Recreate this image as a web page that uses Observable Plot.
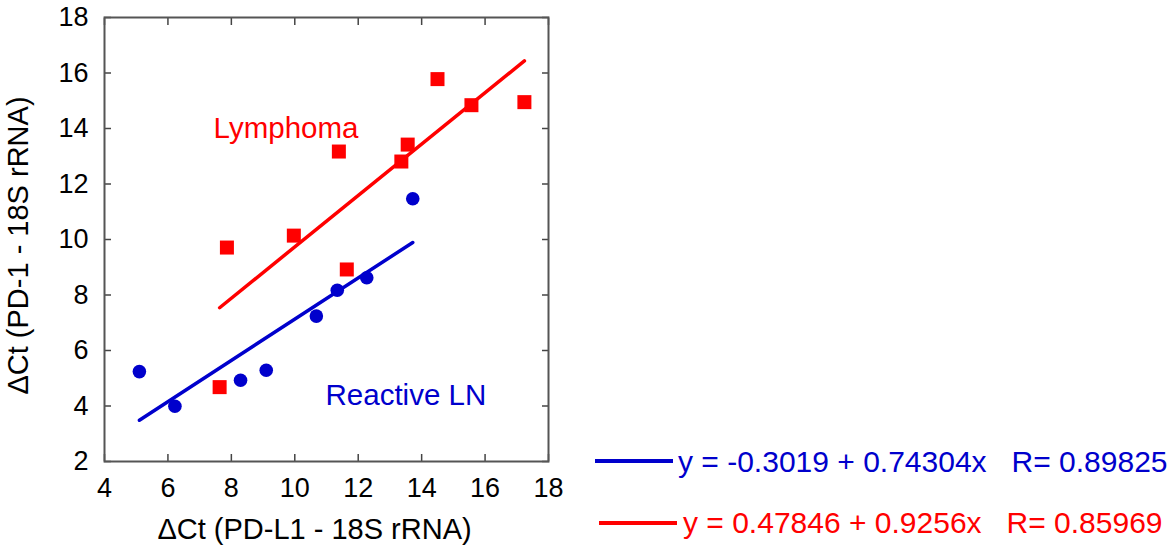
<!DOCTYPE html>
<html>
<head>
<meta charset="utf-8">
<script src="https://cdn.jsdelivr.net/npm/d3@7"></script>
<script src="https://cdn.jsdelivr.net/npm/@observablehq/plot@0.6"></script>
<style>
  html, body { margin: 0; padding: 0; background: #fff; }
  #wrap { position: relative; width: 1176px; height: 548px; font-family: "Liberation Sans", Arial, sans-serif; }
  .leg { position: absolute; white-space: pre; font-size: 30px; line-height: 30px; }
  .legline { position: absolute; height: 4px; }
</style>
</head>
<body>
<div id="wrap"></div>
<script>
// Reactive LN (blue circles)
const reactiveX = [5.10, 6.22, 8.29, 9.10, 10.68, 11.34, 12.27, 13.72];
const reactiveY = [5.24, 3.99, 4.93, 5.29, 7.24, 8.17, 8.62, 11.47];
// Lymphoma (red squares)
const lymphX = [7.63, 7.86, 9.97, 11.39, 11.64, 13.36, 13.56, 14.50, 15.57, 17.24];
const lymphY = [4.68, 9.71, 10.14, 13.17, 8.92, 12.81, 13.42, 15.78, 14.84, 14.95];
// fitted lines (intercept, slope) as printed in the legend
const reactiveFit = [-0.3019, 0.74304];
const lymphFit = [0.47846, 0.9256];
const legendTexts = ["y = -0.3019 + 0.74304x   R= 0.89825", "y = 0.47846 + 0.9256x   R= 0.85969"];
const xTicks = [4, 6, 8, 10, 12, 14, 16, 18];
const yTicks = [2, 4, 6, 8, 10, 12, 14, 16, 18];
const groupLabels = ["Lymphoma", "Reactive LN"];
const xTitle = "\u0394Ct (PD-L1 - 18S rRNA)";
const yTitle = "\u0394Ct (PD-1 - 18S rRNA)";

const BLUE = "#0000cc", RED = "#ff0000";
const reactive = reactiveX.map((x, i) => ({x, y: reactiveY[i]}));
const lymph = lymphX.map((x, i) => ({x, y: lymphY[i]}));
function fitLine(xs, fit) {
  const lo = d3.min(xs), hi = d3.max(xs);
  return [lo, hi].map(x => ({x, y: fit[0] + fit[1] * x}));
}
const labelPos = [
  {text: groupLabels[0], x: 7.44, y: 14.0, c: RED},
  {text: groupLabels[1], x: 10.97, y: 4.38, c: BLUE}
];
const TS = 7;
const tickAxis = (kind, anchor, off) => (kind === "x" ? Plot.axisX : Plot.axisY)({
  anchor, ticks: kind === "x" ? xTicks : yTicks, tickSize: TS, tickFormat: () => "", label: null,
  stroke: "#444", strokeWidth: 1.5,
  ...(kind === "x" ? {dy: off} : {dx: off})
});

const chart = Plot.plot({
  width: 1176, height: 548,
  marginLeft: 104, marginRight: 628, marginTop: 17, marginBottom: 87,
  style: {fontFamily: '"Liberation Sans", Arial, sans-serif', background: "white", color: "#000"},
  x: {domain: [4, 18]},
  y: {domain: [2, 18]},
  marks: [
    Plot.axisX({anchor: "bottom", ticks: xTicks, tickSize: 0, tickPadding: 16, label: null, fontSize: 27}),
    Plot.axisY({anchor: "left", ticks: yTicks, tickSize: 0, tickPadding: 16, label: null, fontSize: 27}),
    tickAxis("x", "bottom", -TS),
    tickAxis("x", "top", TS),
    tickAxis("y", "left", TS),
    tickAxis("y", "right", -TS),
    Plot.frame({stroke: "#555", strokeWidth: 2}),
    Plot.line(fitLine(lymphX, lymphFit), {x: "x", y: "y", stroke: RED, strokeWidth: 3.5}),
    Plot.line(fitLine(reactiveX, reactiveFit), {x: "x", y: "y", stroke: BLUE, strokeWidth: 3.5}),
    Plot.dot(lymph, {x: "x", y: "y", symbol: "square", r: 7.9, fill: RED, stroke: null}),
    Plot.dot(reactive, {x: "x", y: "y", symbol: "circle", r: 6.8, fill: BLUE, stroke: null}),
    Plot.text(labelPos, {x: "x", y: "y", text: "text", fill: "c", textAnchor: "start", fontSize: 29.5}),
    Plot.text([xTitle], {frameAnchor: "bottom", dy: 68, dx: -12, lineAnchor: "middle", textAnchor: "middle", fontSize: 29, fill: "#000"}),
    Plot.text([yTitle], {frameAnchor: "left", dx: -86, dy: 6, rotate: -90, lineAnchor: "middle", textAnchor: "middle", fontSize: 29, fill: "#000"})
  ]
});
const wrap = document.getElementById("wrap");
wrap.appendChild(chart);

const legendRows = [
  {text: legendTexts[0], c: BLUE, lx: 595, lw: 78, ly: 461, tx: 678, ty: 447},
  {text: legendTexts[1], c: RED, lx: 599, lw: 78, ly: 523, tx: 683, ty: 508}
];
for (const r of legendRows) {
  const l = document.createElement("div");
  l.className = "legline";
  l.style.left = r.lx + "px"; l.style.top = (r.ly - 2) + "px"; l.style.width = r.lw + "px"; l.style.background = r.c;
  wrap.appendChild(l);
  const t = document.createElement("div");
  t.className = "leg";
  t.style.left = r.tx + "px"; t.style.top = r.ty + "px"; t.style.color = r.c;
  t.textContent = r.text;
  wrap.appendChild(t);
}
</script>
</body>
</html>
